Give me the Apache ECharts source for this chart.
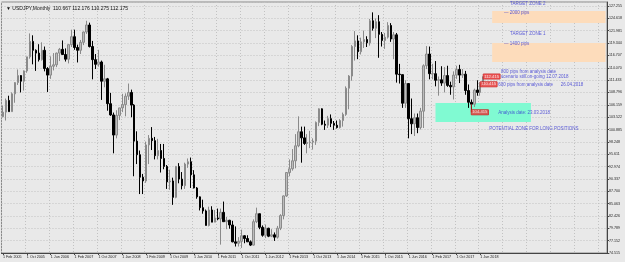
<!DOCTYPE html>
<html>
<head>
<meta charset="utf-8">
<script src="https://cdn.jsdelivr.net/npm/echarts@6/dist/echarts.min.js"></script>
<style>
  html, body { margin: 0; padding: 0; background: #e9e9e9; }
  #chart { width: 625px; height: 262px; }
</style>
</head>
<body>
<div id="chart"></div>
<script>
// USDJPY monthly, Feb 2005 .. Jul 2018
const monthNames = ['Jan', 'Feb', 'Mar', 'Apr', 'May', 'Jun', 'Jul', 'Aug', 'Sep', 'Oct', 'Nov', 'Dec'];
const firstYear = 2005, firstMonth = 1;   // Feb 2005
const slotCount = 203;                     // chart is shifted, empty months on the right

const opens = [
  103.6, 104.6, 107.1, 104.7, 108.5, 110.9, 112.4, 111.2, 113.4, 116.4, 119.7,
  117.8, 117.2, 115.8, 117.8, 113.9, 112.5, 114.4, 114.7, 117.2, 118.0, 116.9, 115.9,
  119.0, 120.7, 118.4, 117.8, 119.5, 121.7, 123.2, 118.6, 115.8, 114.8, 115.3, 111.2,
  111.7, 106.4, 104.0, 99.7, 103.9, 105.5, 106.2, 108.0, 108.8, 106.1, 98.4, 95.5,
  90.7, 89.9, 97.6, 99.0, 98.5, 95.3, 96.4, 94.7, 93.0, 89.7, 89.9, 86.4,
  93.0, 90.3, 88.9, 93.5, 94.0, 91.2, 88.4, 86.5, 84.2, 83.5, 80.4, 83.7,
  81.1, 82.0, 81.8, 83.2, 81.2, 81.5, 80.5, 76.9, 76.6, 77.0, 78.2, 77.6,
  76.9, 76.2, 81.2, 82.9, 80.0, 78.3, 79.8, 78.1, 78.4, 77.9, 79.8, 82.5,
  86.7, 91.7, 92.5, 94.2, 97.4, 100.4, 99.1, 97.9, 98.1, 98.2, 98.4, 102.4,
  105.3, 102.0, 101.8, 103.2, 102.2, 101.8, 101.3, 102.8, 104.1, 109.7, 112.3, 118.6,
  119.8, 117.5, 119.6, 120.1, 119.4, 124.1, 122.5, 123.9, 121.2, 119.9, 120.6, 123.1,
  120.2, 121.1, 112.7, 112.6, 106.5, 110.7, 103.2, 102.1, 103.4, 101.3, 104.8, 114.5,
  117.0, 112.8, 112.8, 111.4, 111.5, 110.8, 112.4, 110.3, 110.0, 112.5, 113.7, 112.5,
  112.7, 109.2, 106.7, 106.3, 109.3, 108.8, 110.667
];
const closes = [
  104.6, 107.1, 104.7, 108.5, 110.9, 112.4, 111.2, 113.4, 116.4, 119.7, 117.8,
  117.2, 115.8, 117.8, 113.9, 112.5, 114.4, 114.7, 117.2, 118.0, 116.9, 115.9, 119.0,
  120.7, 118.4, 117.8, 119.5, 121.7, 123.2, 118.6, 115.8, 114.8, 115.3, 111.2, 111.7,
  106.4, 104.0, 99.7, 103.9, 105.5, 106.2, 108.0, 108.8, 106.1, 98.4, 95.5, 90.7,
  89.9, 97.6, 99.0, 98.5, 95.3, 96.4, 94.7, 93.0, 89.7, 89.9, 86.4, 93.0,
  90.3, 88.9, 93.5, 94.0, 91.2, 88.4, 86.5, 84.2, 83.5, 80.4, 83.7, 81.1,
  82.0, 81.8, 83.2, 81.2, 81.5, 80.5, 76.9, 76.6, 77.0, 78.2, 77.6, 76.9,
  76.2, 81.2, 82.9, 80.0, 78.3, 79.8, 78.1, 78.4, 77.9, 79.8, 82.5, 86.7,
  91.7, 92.5, 94.2, 97.4, 100.4, 99.1, 97.9, 98.1, 98.2, 98.4, 102.4, 105.3,
  102.0, 101.8, 103.2, 102.2, 101.8, 101.3, 102.8, 104.1, 109.7, 112.3, 118.6, 119.8,
  117.5, 119.6, 120.1, 119.4, 124.1, 122.5, 123.9, 121.2, 119.9, 120.6, 123.1, 120.2,
  121.1, 112.7, 112.6, 106.5, 110.7, 103.2, 102.1, 103.4, 101.3, 104.8, 114.5, 117.0,
  112.8, 112.8, 111.4, 111.5, 110.8, 112.4, 110.3, 110.0, 112.5, 113.7, 112.5, 112.7,
  109.2, 106.7, 106.3, 109.3, 108.8, 110.667, 112.175
];
const highs = [
  106.0, 107.5, 108.1, 108.8, 111.0, 113.7, 112.5, 113.5, 116.4, 121.4, 121.0,
  118.0, 119.1, 119.5, 118.6, 114.2, 116.5, 117.2, 117.3, 118.3, 119.9, 118.2, 119.1,
  122.2, 122.2, 119.0, 120.0, 121.8, 124.1, 123.7, 119.8, 117.0, 117.9, 115.6, 114.7,
  111.9, 108.7, 104.5, 105.0, 105.5, 108.5, 108.6, 110.7, 109.4, 106.3, 100.5, 96.4,
  91.4, 98.3, 99.7, 101.4, 99.3, 98.9, 97.8, 97.8, 93.3, 92.3, 90.6, 93.1,
  93.7, 91.8, 93.8, 94.7, 94.9, 92.2, 88.6, 86.6, 85.9, 83.8, 84.4, 84.5,
  83.7, 84.0, 84.0, 85.5, 82.2, 81.6, 81.4, 80.2, 77.9, 79.5, 78.3, 78.3,
  77.2, 81.7, 84.2, 82.9, 80.4, 80.6, 79.9, 79.6, 78.9, 80.3, 82.8, 86.8,
  91.7, 94.5, 96.7, 99.9, 103.7, 101.5, 101.5, 99.9, 100.6, 99.0, 102.6, 105.4,
  105.4, 102.8, 103.8, 104.1, 102.7, 102.8, 103.1, 104.5, 110.1, 112.5, 118.9, 121.9,
  121.0, 120.5, 122.0, 120.8, 124.5, 125.9, 124.6, 125.3, 121.7, 121.5, 123.8, 123.6,
  121.7, 121.5, 114.9, 112.6, 111.4, 110.8, 107.5, 104.3, 104.3, 105.5, 114.8, 118.7,
  118.6, 114.9, 115.5, 112.2, 114.4, 114.2, 114.5, 111.1, 113.3, 114.5, 114.7, 113.8,
  113.4, 110.5, 107.3, 109.6, 111.4, 111.0, 112.176
];
const lows = [
  103.5, 102.8, 104.7, 104.7, 106.6, 110.4, 108.8, 109.2, 113.0, 116.0, 114.8,
  113.4, 115.4, 115.6, 113.3, 108.9, 111.7, 113.5, 114.2, 115.5, 116.8, 115.4, 115.0,
  118.5, 117.9, 115.2, 117.0, 118.9, 121.3, 118.4, 111.6, 113.8, 114.3, 107.2, 109.9,
  104.9, 103.8, 95.8, 99.0, 102.9, 104.6, 103.7, 107.2, 103.5, 90.9, 93.5, 87.1,
  87.1, 89.5, 93.5, 96.5, 94.5, 94.5, 91.7, 92.4, 88.2, 88.0, 84.8, 86.2,
  89.4, 88.1, 88.2, 92.7, 88.4, 88.3, 86.1, 83.6, 82.9, 80.4, 80.2, 81.1,
  81.1, 81.5, 76.3, 81.2, 79.6, 79.7, 76.8, 75.9, 75.9, 75.6, 76.6, 76.9,
  76.0, 76.1, 80.9, 79.6, 78.0, 77.7, 77.9, 77.9, 77.1, 77.6, 79.4, 81.7,
  86.5, 90.9, 92.1, 92.6, 97.1, 93.8, 97.6, 95.8, 96.9, 96.6, 97.6, 101.6,
  101.8, 100.8, 101.2, 101.4, 100.8, 101.1, 101.1, 101.5, 103.8, 105.2, 111.3, 115.6,
  115.9, 116.9, 118.3, 118.5, 118.8, 122.0, 120.4, 116.2, 118.6, 118.1, 120.3, 119.6,
  115.9, 110.9, 110.7, 105.5, 105.5, 99.0, 99.9, 99.5, 100.1, 100.9, 101.2, 113.8,
  111.6, 111.6, 110.1, 108.1, 110.2, 108.8, 110.0, 108.3, 107.3, 111.7, 110.8, 111.9,
  108.3, 105.5, 104.6, 105.7, 108.1, 108.1, 110.275
];

// right price scale
const yMin = 74.515, yMax = 128.11, yStep = 2.637;
const lastPrice = 112.175;
const header = '\u25BC USDJPY,Monthly  110.667 112.176 110.275 112.175';

// rectangles drawn on the chart: [from, to, top price, bottom price]
const zoneTarget2 = ['1 Oct 2018', '1 Dec 2021', 126.19, 123.63];
const zoneTarget1 = ['1 Oct 2018', '1 Dec 2021', 119.36, 115.30];
const zoneLong = ['1 Mar 2017', '1 Nov 2019', 106.55, 102.49];

// text objects: [text, month, price]
const blueNotes = [
  ['TARGET ZONE 2', '1 Apr 2019', 127.69],
  ['\u2014 2000 pips', '1 Feb 2019', 125.8],
  ['TARGET ZONE 1', '1 Apr 2019', 121.28],
  ['\u2014 1400 pips', '1 Feb 2019', 119.25],
  ['800 pips from analysis date', '1 Jan 2019', 113.2],
  ['scenario still on-going 12.07.2018', '1 Jan 2019', 112.25],
  ['600 pips from analysis date', '1 Dec 2018', 110.54],
  ['26.04.2018', '1 Sep 2020', 110.54],
  ['Analysis date: 23.03.2018', '1 Dec 2018', 104.56],
  ['POTENTIAL ZONE FOR LONG POSITIONS', '1 Sep 2018', 101.14]
];
// price labels
const priceTags = [
  ['112.415', '1 Jul 2018', 112.2],
  ['110.415', '1 Jun 2018', 110.54],
  ['104.415', '1 Mar 2018', 104.56]
];

const categories = [];
for (let i = 0; i < slotCount; i++) {
  const m = firstMonth + i;
  categories.push('1 ' + monthNames[m % 12] + ' ' + (firstYear + Math.floor(m / 12)));
}
const candles = opens.map((o, i) => [o, closes[i], lows[i], highs[i]]);

const font = 'Liberation Sans';
const blue = '#3434d2';
const zoneItem = (z, color) => [
  { coord: [z[0], z[2]], itemStyle: { color: color } },
  { coord: [z[1], z[3]] }
];
// time scale only labels months that have bars
const dateMark = i => i % 8 === 0 && i < opens.length;

const chart = echarts.init(document.getElementById('chart'));
chart.setOption({
  animation: false,
  backgroundColor: '#e9e9e9',
  title: {
    text: header, left: 1, top: 1,
    textStyle: { fontSize: 5, fontWeight: 'normal', color: '#111', fontFamily: font }
  },
  grid: {
    left: 0, right: 15, top: 2, bottom: 9,
    show: true, borderColor: '#8a8a8a', borderWidth: 1
  },
  xAxis: {
    type: 'category',
    data: categories,
    boundaryGap: true,
    axisLine: { lineStyle: { color: '#444' } },
    axisTick: { show: true, interval: dateMark, length: 2, alignWithLabel: true, lineStyle: { color: '#444' } },
    axisLabel: {
      interval: dateMark, fontSize: 3.7, color: '#222', align: 'left', margin: 2,
      fontFamily: font, hideOverlap: false
    },
    splitLine: { show: true, interval: 7, lineStyle: { color: '#c2c2c2', type: [1, 2] } }
  },
  yAxis: {
    type: 'value',
    position: 'right',
    scale: true,
    min: yMin, max: yMax, interval: yStep,
    axisLine: { show: true, lineStyle: { color: '#444' } },
    axisTick: { show: true, length: 2, lineStyle: { color: '#444' } },
    axisLabel: {
      fontSize: 3.6, color: '#222', margin: 2, fontFamily: font,
      showMaxLabel: false, formatter: v => v.toFixed(3)
    },
    splitLine: { show: true, lineStyle: { color: '#c2c2c2', type: [1, 2] } }
  },
  series: [
    {
      // rectangles, kept behind the candles
      type: 'line', data: [], z: 1, silent: true,
      markArea: {
        silent: true,
        data: [
          zoneItem(zoneTarget2, '#fddcbb'),
          zoneItem(zoneTarget1, '#fddcbb'),
          zoneItem(zoneLong, '#80fad2')
        ]
      }
    },
    {
      type: 'candlestick',
      data: candles,
      barWidth: 2,
      z: 3,
      itemStyle: {
        color: '#bdbdbd', borderColor: '#8a8a8a',
        color0: '#000', borderColor0: '#000',
        borderWidth: 1
      },
      markLine: {
        silent: true, symbol: 'none',
        lineStyle: { opacity: 0 },
        label: {
          position: 'end', distance: 1, formatter: lastPrice.toFixed(3),
          fontSize: 3.6, color: '#fff', backgroundColor: '#000', padding: [1, 1], fontFamily: font
        },
        data: [{ yAxis: lastPrice }]
      }
    },
    {
      // red connector line of the analysis price tag
      type: 'line', z: 4, silent: true, symbol: 'none',
      lineStyle: { color: '#e83030', width: 0.8 },
      data: [['1 Mar 2018', 106.3], ['1 Mar 2018', 104.56]]
    },
    {
      type: 'scatter', z: 5, silent: true, symbolSize: 0,
      label: {
        show: true, position: 'right', distance: 0, formatter: '{b}',
        fontSize: 4.5, color: blue, fontFamily: font
      },
      data: blueNotes.map(n => ({ name: n[0], value: [n[1], n[2]] }))
    },
    {
      type: 'scatter', z: 6, silent: true, symbolSize: 0,
      label: {
        show: true, position: 'right', distance: 0, formatter: '{b}',
        fontSize: 4.2, color: '#fff', backgroundColor: '#e83a3a',
        borderColor: '#c01010', borderWidth: 0.5, padding: [0.5, 1], fontFamily: font
      },
      data: priceTags.map(n => ({ name: n[0], value: [n[1], n[2]] }))
    }
  ]
});
</script>
</body>
</html>
